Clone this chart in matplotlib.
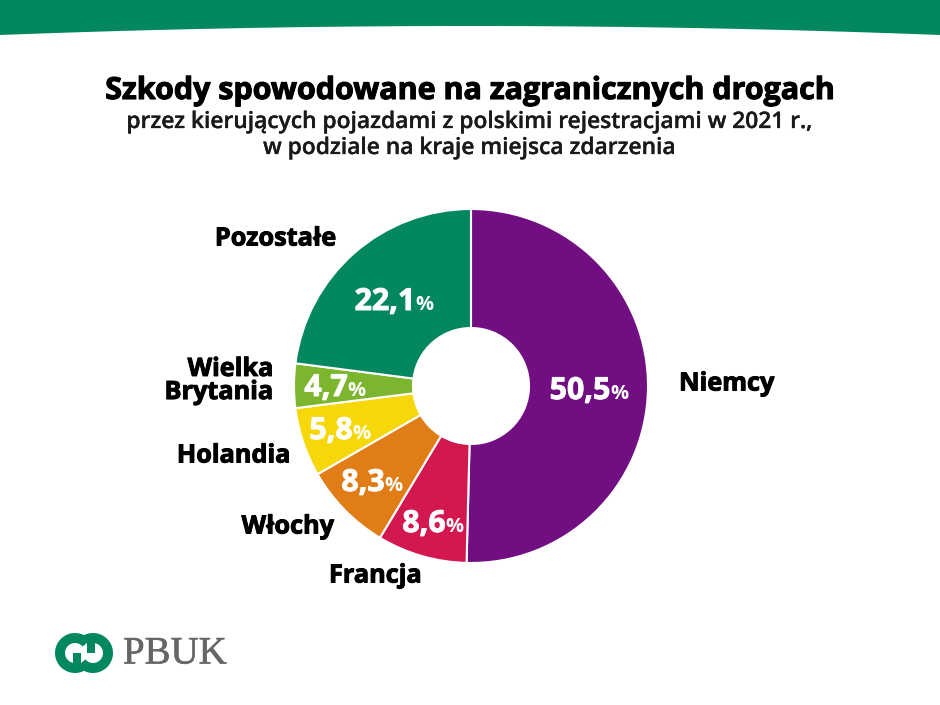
#!/usr/bin/env python3
import numpy as np
import matplotlib
matplotlib.use('Agg')
import matplotlib.pyplot as plt
import matplotlib.patheffects as pe
from matplotlib.patches import Wedge, Rectangle

countries = ['Niemcy', 'Francja', 'Włochy', 'Holandia', 'Wielka\nBrytania', 'Pozostałe']
# slice sizes as drawn in the picture, they differ a bit from the printed percentages
drawn_shares = [50.4, 8.2, 8.1, 6.3, 4.05, 22.95]
share_labels = ['50,5', '8,6', '8,3', '5,8', '4,7', '22,1']
colors = ['#700e82', '#d3174f', '#e07d17', '#f6d80a', '#7cb62f', '#03875f']

GREEN = '#03875f'
HEIGHT = 705

plt.rcParams['font.family'] = ['Open Sans', 'DejaVu Sans']

fig = plt.figure(figsize=(9.4, 7.05), dpi=100)
ax = fig.add_axes([0, 0, 1, 1])
ax.set_xlim(0, 940)
ax.set_ylim(0, HEIGHT)
ax.axis('off')


def py(y):
    # positions below were measured from the top of the image
    return HEIGHT - y


def heavy(color, w=0.7):
    # no extra bold face installed, thicken the bold one
    return [pe.withStroke(linewidth=w, foreground=color)]


# top band with curved lower edge
bx = np.linspace(0, 940, 200)
edge = 26 + 9 * ((bx - 470) / 470) ** 2
ax.fill_between(bx, py(edge), HEIGHT, color=GREEN, lw=0)

# titles
ax.text(469, py(91), 'Szkody spowodowane na zagranicznych drogach', fontsize=21.9,
        fontweight='bold', ha='center', va='center', color='black', path_effects=heavy('black', 0.8))
ax.text(469, py(122), 'przez kierujących pojazdami z polskimi rejestracjami w 2021 r.,',
        fontsize=16.4, fontweight='semibold', ha='center', va='center', color='#1a1a1a',
        path_effects=heavy('#1a1a1a', 0.2))
ax.text(469, py(148), 'w podziale na kraje miejsca zdarzenia',
        fontsize=16.4, fontweight='semibold', ha='center', va='center', color='#1a1a1a',
        path_effects=heavy('#1a1a1a', 0.2))

# donut
ax.pie(drawn_shares, colors=colors, startangle=90, counterclock=False, center=(471, py(386)),
       radius=177, frame=True, wedgeprops=dict(width=119, edgecolor='white', linewidth=1.5))
ax.set_xlim(0, 940)
ax.set_ylim(0, HEIGHT)
ax.set_aspect('equal')
ax.axis('off')

# value labels
value_pos = [(580, 391), (424, 524), (363, 483), (331, 431), (326, 388), (385, 302)]
for (x, y), txt in zip(value_pos, share_labels):
    t = ax.text(x, py(y), txt, fontsize=21.8, fontweight='bold', color='white',
                ha='center', va='center', path_effects=heavy('white'))
    ax.annotate('%', xy=(1, 0.5), xycoords=t, xytext=(0, -2), textcoords='offset points',
                fontsize=14.5, fontweight='bold', color='white', ha='left', va='center')

# category labels
name_pos = [(679, 384, 'left'), (329, 576, 'left'), (334, 527, 'right'), (290, 456, 'right'),
            (273, 381, 'right'), (336, 239, 'right')]
for (x, y, ha), name in zip(name_pos, countries):
    ax.text(x, py(y), name, fontsize=18.2, fontweight='bold', ha=ha, va='center',
            color='black', linespacing=0.9, multialignment='right', path_effects=heavy('black'))

# logo
for cx, a1, a2 in [(75, 40, 300), (93, 220, 480)]:
    ax.add_patch(Wedge((cx, py(653)), 20, a1, a2, width=10, color=GREEN, lw=0))
ax.add_patch(Rectangle((87, py(653)), 8, 16, color=GREEN, lw=0))
ax.add_patch(Rectangle((73, py(669)), 8, 16, color=GREEN, lw=0))
ax.text(123, py(654), 'PBUK', fontsize=28, family='Liberation Serif', color='#666666',
        ha='left', va='center', path_effects=heavy('#666666', 0.4))

fig.savefig('out.png', dpi=100)
